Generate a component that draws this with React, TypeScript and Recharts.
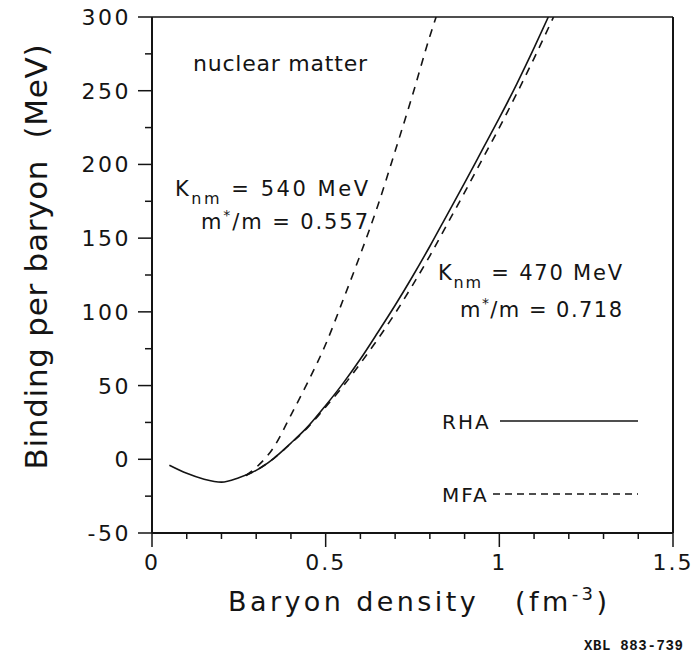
import { LineChart, Line, XAxis, YAxis, ReferenceLine } from 'recharts'

// baryon density (fm^-3) and binding per baryon (MeV)
const RHA_X = [0.05, 0.1, 0.15, 0.2, 0.25, 0.3, 0.35, 0.4, 0.45, 0.5, 0.55, 0.6, 0.65, 0.7, 0.75, 0.8, 0.85, 0.9, 0.95, 1.0, 1.05, 1.1, 1.141]
const RHA_Y = [-4, -9.5, -13.5, -15.5, -12.5, -7.5, 0.5, 11, 22.5, 36.5, 51.5, 68, 86, 104.5, 124, 144.5, 166, 187.5, 209.5, 231.5, 254.5, 279, 300]

const MFA470_X = [0.27, 0.3, 0.35, 0.4, 0.45, 0.5, 0.55, 0.6, 0.65, 0.7, 0.75, 0.8, 0.85, 0.9, 0.95, 1.0, 1.05, 1.1, 1.156]
const MFA470_Y = [-11, -7.5, 0.5, 10.8, 22, 35.5, 49.5, 65, 81.5, 99, 118, 138, 159.5, 181, 203, 225, 248, 272, 300]

const MFA540_X = [0.27, 0.3, 0.35, 0.4, 0.45, 0.5, 0.55, 0.6, 0.65, 0.7, 0.75, 0.8, 0.818]
const MFA540_Y = [-11, -5.5, 8, 30, 53, 78, 108, 139, 172, 209, 247, 287, 300]

const X_TICKS = [0, 0.1, 0.2, 0.3, 0.4, 0.5, 0.6, 0.7, 0.8, 0.9, 1, 1.1, 1.2, 1.3, 1.4, 1.5]
const X_MAJOR = [0, 0.5, 1, 1.5]
const X_MAJOR_LABELS = ['0', '0.5', '1', '1.5']
const Y_TICKS = [-50, -25, 0, 25, 50, 75, 100, 125, 150, 175, 200, 225, 250, 275, 300]
const Y_MAJOR = [-50, 0, 50, 100, 150, 200, 250, 300]
const Y_MAJOR_LABELS = ['-50', '0', '50', '100', '150', '200', '250', '300']

const INK = '#141414'
const FONT = '"DejaVu Sans", sans-serif'

const toPoints = (xs: number[], ys: number[]) => xs.map((x, i) => ({ x, y: ys[i] }))

const rha = toPoints(RHA_X, RHA_Y)
const mfa470 = toPoints(MFA470_X, MFA470_Y)
const mfa540 = toPoints(MFA540_X, MFA540_Y)

const findMajor = (list: number[], v: number) => list.findIndex((m) => Math.abs(m - v) < 1e-6)

function XTick(props: any) {
  const { x, y, payload } = props
  const idx = findMajor(X_MAJOR, payload.value)
  const major = idx >= 0
  return (
    <g>
      <line x1={x} x2={x} y1={y} y2={y + (major ? 14 : 6)} stroke={INK} strokeWidth={1.5} />
      {major && (
        <text x={x} y={y + 37} textAnchor="middle" fontFamily={FONT} fontSize={22} letterSpacing={2} fill={INK}>
          {X_MAJOR_LABELS[idx]}
        </text>
      )}
    </g>
  )
}

function YTick(props: any) {
  const { x, y, payload } = props
  const idx = findMajor(Y_MAJOR, payload.value)
  const major = idx >= 0
  return (
    <g>
      <line x1={x} x2={x - (major ? 14 : 7)} y1={y} y2={y} stroke={INK} strokeWidth={1.5} />
      {major && (
        <text x={x - 21} y={y + 8} textAnchor="end" fontFamily={FONT} fontSize={22} letterSpacing={2.5} fill={INK}>
          {Y_MAJOR_LABELS[idx]}
        </text>
      )}
    </g>
  )
}

export default function App() {
  return (
    <div style={{ position: 'absolute', left: 0, top: 0, width: 692, height: 655, background: '#fff' }}>
      <LineChart width={692} height={655} margin={{ top: 17, right: 19, left: 72, bottom: 62 }}>
        <XAxis
          type="number"
          dataKey="x"
          domain={[0, 1.5]}
          ticks={X_TICKS}
          tick={<XTick />}
          tickSize={0}
          tickMargin={0}
          tickLine={false}
          height={60}
          axisLine={{ stroke: INK, strokeWidth: 2 }}
          allowDataOverflow
        />
        <YAxis
          type="number"
          dataKey="y"
          domain={[-50, 300]}
          ticks={Y_TICKS}
          tick={<YTick />}
          tickSize={0}
          tickMargin={0}
          tickLine={false}
          width={80}
          axisLine={{ stroke: INK, strokeWidth: 2 }}
          allowDataOverflow
        />
        <ReferenceLine y={300} stroke={INK} strokeWidth={1.5} />
        <ReferenceLine x={1.5} stroke={INK} strokeWidth={2} />
        <Line data={rha} dataKey="y" type="monotone" stroke={INK} strokeWidth={1.6} dot={false} isAnimationActive={false} />
        <Line data={mfa470} dataKey="y" type="monotone" stroke={INK} strokeWidth={1.6} strokeDasharray="8 7" dot={false} isAnimationActive={false} />
        <Line data={mfa540} dataKey="y" type="monotone" stroke={INK} strokeWidth={1.6} strokeDasharray="8 7" dot={false} isAnimationActive={false} />
      </LineChart>

      <svg width={692} height={655} style={{ position: 'absolute', left: 0, top: 0, pointerEvents: 'none' }}>
        <g fontFamily={FONT} fill={INK}>
          <text x={193} y={71} fontSize={22} textLength={174}>nuclear matter</text>

          <text x={175} y={196} fontSize={21} textLength={193}>
            K<tspan dy={8} fontSize={16}>nm</tspan><tspan dy={-8}> = 540 MeV</tspan>
          </text>
          <text x={201} y={229} fontSize={21} textLength={167}>
            m<tspan dy={-9} fontSize={14}>*</tspan><tspan dy={9}>/m = 0.557</tspan>
          </text>

          <text x={438} y={280} fontSize={21} textLength={184}>
            K<tspan dy={8} fontSize={16}>nm</tspan><tspan dy={-8}> = 470 MeV</tspan>
          </text>
          <text x={460} y={317} fontSize={21} textLength={162}>
            m<tspan dy={-9} fontSize={14}>*</tspan><tspan dy={9}>/m = 0.718</tspan>
          </text>

          <text x={442} y={429} fontSize={20} letterSpacing={2}>RHA</text>
          <line x1={500} x2={638} y1={421} y2={421} stroke={INK} strokeWidth={1.6} />
          <text x={442} y={502} fontSize={20} letterSpacing={2}>MFA</text>
          <line x1={493} x2={638} y1={494} y2={494} stroke={INK} strokeWidth={1.6} strokeDasharray="7 5" />

          <text transform="rotate(-90)" x={-257} y={47} textAnchor="middle" fontSize={31} textLength={425}>
            Binding per baryon{'\u00a0\u00a0'}(MeV)
          </text>
          <text x={228} y={611} fontSize={27} textLength={379}>
            Baryon density{'\u00a0\u00a0\u00a0'}(fm<tspan dy={-11} fontSize={18}>-3</tspan><tspan dy={11}>)</tspan>
          </text>

          <text x={584} y={650} fontFamily='"Liberation Mono", monospace' fontWeight="bold" fontSize={14} textLength={99}>
            XBL 883-739
          </text>
        </g>
      </svg>
    </div>
  )
}
